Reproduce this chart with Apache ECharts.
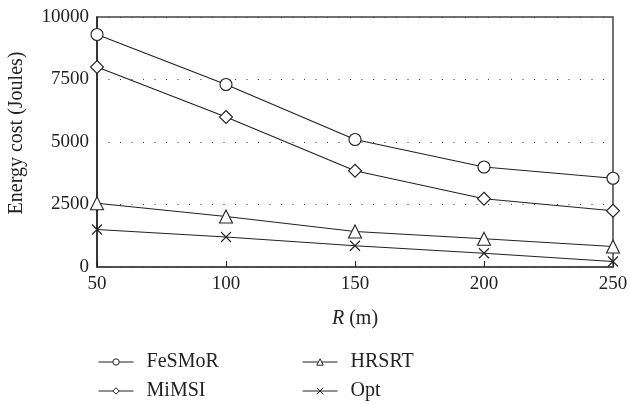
<!DOCTYPE html>
<html>
<head>
<meta charset="utf-8">
<script src="https://cdn.jsdelivr.net/npm/echarts@6/dist/echarts.min.js"></script>
<style>
  html, body { margin: 0; padding: 0; background: #fff; }
  #chart { width: 630px; height: 404px; }
</style>
</head>
<body>
<div id="chart"></div>
<script>
const radius = [50, 100, 150, 200, 250];
const fesmor = [9300, 7300, 5100, 4000, 3550];
const mimsi = [8000, 6000, 3850, 2730, 2250];
const hrsrt = [2550, 2020, 1420, 1130, 820];
const opt = [1500, 1200, 850, 550, 220];
const yTicks = [0, 2500, 5000, 7500, 10000];

const font = '"Liberation Serif", "DejaVu Serif", serif';
const ink = '#222';
const cross = 'path://M0,0L10,10M10,0L0,10';

const chart = echarts.init(document.getElementById('chart'));

function mkSeries(name, values, symbol, size) {
  return {
    name: name,
    type: 'line',
    data: radius.map((r, i) => [r, values[i]]),
    symbol: symbol,
    symbolSize: size,
    showAllSymbol: true,
    lineStyle: { color: ink, width: 1.2 },
    itemStyle: { color: '#fff', borderColor: ink, borderWidth: 1.1 },
    emphasis: { disabled: true },
    z: 3
  };
}

const legendCommon = {
  orient: 'vertical',
  top: 352,
  height: 120,
  padding: 0,
  itemWidth: 35,
  itemHeight: 8,
  itemGap: 9,
  lineStyle: { width: 1.1 },
  itemStyle: { borderWidth: 1 },
  textStyle: { fontFamily: font, fontSize: 20, color: ink, padding: [0, 0, 0, 8] },
  selectedMode: false
};

const option = {
  animation: false,
  backgroundColor: '#fff',
  grid: {
    left: 97, right: 17, top: 17, bottom: 137,
    outerBoundsMode: 'none',
    show: true, borderColor: '#444', borderWidth: 1.5
  },
  legend: [
    Object.assign({ left: 98, data: ['FeSMoR', 'MiMSI'] }, legendCommon),
    Object.assign({ left: 302, data: ['HRSRT', 'Opt'] }, legendCommon)
  ],
  xAxis: {
    type: 'value',
    min: 50, max: 250, interval: 50,
    name: '{i|R} (m)',
    nameLocation: 'middle',
    nameGap: 42,
    nameTextStyle: {
      fontFamily: font, fontSize: 20, color: ink,
      rich: { i: { fontFamily: font, fontSize: 20, fontStyle: 'italic', color: ink } }
    },
    axisLine: { show: true, lineStyle: { color: '#444', width: 1.5 } },
    axisTick: { show: true, inside: true, length: 6, lineStyle: { color: ink } },
    axisLabel: { fontFamily: font, fontSize: 19, color: ink, margin: 8 },
    splitLine: { show: false }
  },
  yAxis: {
    type: 'value',
    min: 0, max: 10000, interval: 2500,
    name: 'Energy cost (Joules)',
    nameLocation: 'middle',
    nameGap: 70,
    nameTextStyle: { fontFamily: font, fontSize: 20, color: ink, padding: [0, 0, 0, 18] },
    axisLine: { show: true, lineStyle: { color: ink, width: 1.5 } },
    axisTick: { show: false },
    axisLabel: {
      fontFamily: font, fontSize: 19, color: ink, margin: 8,
      formatter: v => (yTicks.indexOf(v) >= 0 ? String(v) : '')
    },
    splitLine: { show: true, lineStyle: { color: '#333', width: 1, type: [1, 10.5] } }
  },
  series: [
    mkSeries('FeSMoR', fesmor, 'circle', 12),
    mkSeries('MiMSI', mimsi, 'diamond', 13),
    mkSeries('HRSRT', hrsrt, 'triangle', 13),
    mkSeries('Opt', opt, cross, 10)
  ]
};

chart.setOption(option);
</script>
</body>
</html>
